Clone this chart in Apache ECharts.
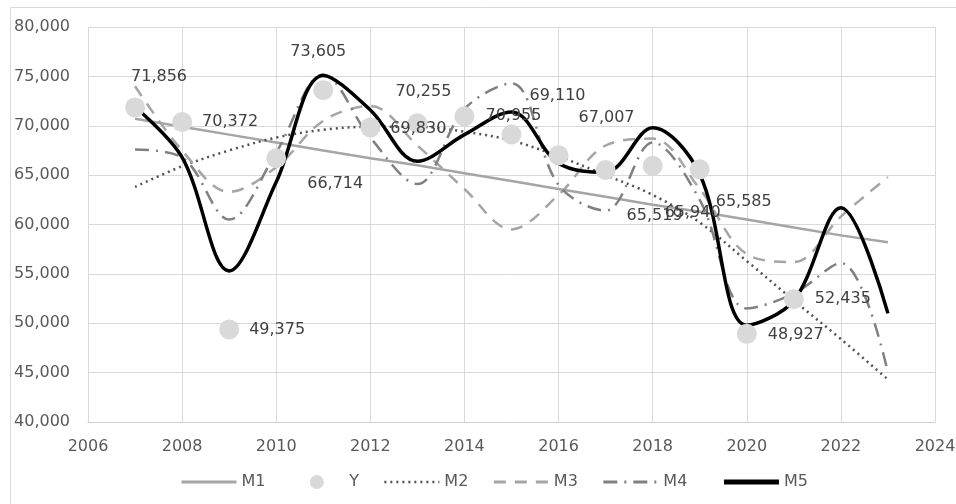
<!DOCTYPE html>
<html>
<head>
<meta charset="utf-8">
<script src="https://cdn.jsdelivr.net/npm/echarts@6/dist/echarts.min.js"></script>
<style>
html,body{margin:0;padding:0;background:#fff}
#main{width:956px;height:504px}
</style>
</head>
<body>
<div id="main"></div>
<script>
// years on the x axis
var years = [2007,2008,2009,2010,2011,2012,2013,2014,2015,2016,2017,2018,2019,2020,2021,2022,2023];
// observed values (Y), 2007-2021
var yObs = [71856,70372,49375,66714,73605,69830,70255,70955,69110,67007,65519,65940,65585,48927,52435];
// model curves
var m1 = [70700,69900,69100,68300,67500,66700,66000,65200,64400,63600,62800,62000,61300,60500,59700,58900,58200];
var m2 = [63800,65900,67500,68800,69600,69900,69900,69400,68500,66900,65000,63000,60200,56300,52300,48400,44300];
var m3 = [74000,67500,63300,65800,70500,72000,68000,63600,59500,63000,68000,68700,63600,57000,56200,60800,64800];
var m4 = [67600,66800,60500,67300,75200,68800,64100,71700,74300,64000,61400,68300,62500,51500,53000,56100,45000];
var m5 = [71900,66800,55300,64300,75100,71600,66400,69100,71400,66200,65300,69800,65100,49800,52300,61700,51000];

// where each Y label sits relative to its point (px)
var labelShift = [[24,-31],[48,0],[48,0],[59,26],[-5,-38],[48,1],[6,-31],[49,0],[46,-39],[48,-37],[49,46],[40,47],[44,32],[49,1],[49,0]];

var FONT = 'DejaVu Sans';

function pairs(vals) {
    var out = [];
    for (var i = 0; i < vals.length; i++) out.push([years[i], vals[i]]);
    return out;
}

function lineSeries(name, vals, color, width, type, smooth) {
    return {
        name: name,
        type: 'line',
        data: pairs(vals),
        showSymbol: false,
        symbol: 'none',
        smooth: smooth,
        z: 2,
        lineStyle: { color: color, width: width, type: type, cap: 'butt' },
        itemStyle: { color: color },
        emphasis: { disabled: true }
    };
}

// legend entry for a line: keep the stroke (a bit heavier), hide the dot
function lineKey(name, w) {
    return { name: name, itemStyle: { opacity: 0 }, lineStyle: { width: w } };
}

var myChart = echarts.init(document.getElementById('main'));

var option = {
    animation: false,
    backgroundColor: '#fff',
    graphic: [{
        type: 'rect',
        shape: { x: 10.5, y: 7.5, width: 960, height: 510 },
        style: { fill: 'none', stroke: '#d9d9d9', lineWidth: 1 },
        silent: true
    }],
    grid: { left: 88, right: 21, top: 27, bottom: 82, containLabel: false, outerBoundsMode: 'none' },
    legend: {
        left: 175,
        top: 469,
        itemWidth: 55,
        itemHeight: 14,
        itemGap: 24,
        textStyle: { fontFamily: FONT, fontSize: 16, color: '#595959' },
        // trailing spaces widen a few entries so the keys line up with the original
        formatter: function (name) {
            if (name === 'M1') return 'M1    ';
            if (name === 'M4') return 'M4  ';
            return name;
        },
        data: [
            lineKey('M1', 3),
            { name: 'Y', itemStyle: { opacity: 1 } },
            lineKey('M2', 2.5),
            lineKey('M3', 3),
            lineKey('M4', 3),
            lineKey('M5', 5)
        ]
    },
    xAxis: {
        type: 'value',
        min: 2006,
        max: 2024,
        interval: 2,
        axisLine: { show: true, lineStyle: { color: '#d0d0d0', width: 1 } },
        axisTick: { show: false },
        splitLine: { show: true, lineStyle: { color: '#d9d9d9', width: 1 } },
        axisLabel: {
            fontFamily: FONT, fontSize: 16, color: '#595959', margin: 17,
            showMinLabel: true, showMaxLabel: true,
            formatter: function (v) { return String(v); }
        }
    },
    yAxis: {
        type: 'value',
        min: 40000,
        max: 80000,
        interval: 5000,
        axisLine: { show: false },
        axisTick: { show: false },
        splitLine: { show: true, lineStyle: { color: '#d9d9d9', width: 1 } },
        axisLabel: {
            fontFamily: FONT, fontSize: 16, color: '#595959', margin: 18,
            showMinLabel: true, showMaxLabel: true,
            formatter: function (v) { return v.toLocaleString('en-US'); }
        }
    },
    series: [
        lineSeries('M1', m1, '#a5a5a5', 2.5, 'solid', false),
        {
            name: 'Y',
            type: 'scatter',
            symbol: 'circle',
            symbolSize: 20,
            z: 5,
            itemStyle: { color: '#d9d9d9', opacity: 1 },
            emphasis: { disabled: true },
            label: {
                show: true,
                position: 'inside',
                fontFamily: FONT,
                fontSize: 16,
                color: '#404040',
                formatter: function (p) { return p.value[1].toLocaleString('en-US'); }
            },
            data: yObs.map(function (v, i) {
                return { value: [years[i], v], label: { offset: labelShift[i] } };
            })
        },
        lineSeries('M2', m2, '#505050', 2.5, [2, 4], 0.35),
        lineSeries('M3', m3, '#a5a5a5', 2.5, [12, 9], 0.35),
        lineSeries('M4', m4, '#808080', 2.5, [14, 7, 2, 7], 0.35),
        lineSeries('M5', m5, '#000000', 3.5, 'solid', 0.35)
    ]
};

myChart.setOption(option);
</script>
</body>
</html>
